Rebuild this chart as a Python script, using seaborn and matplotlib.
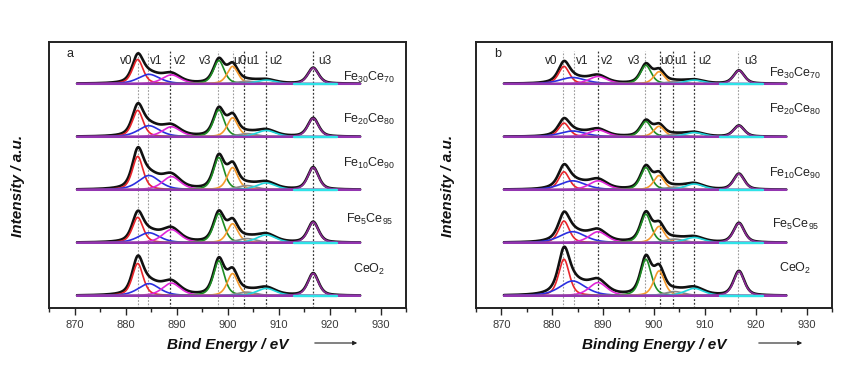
import numpy as np
import pandas as pd
import matplotlib
matplotlib.use("Agg")
import matplotlib.pyplot as plt
import seaborn as sns

# ---------------- data ----------------
samples = ["Fe$_{30}$Ce$_{70}$", "Fe$_{20}$Ce$_{80}$", "Fe$_{10}$Ce$_{90}$",
           "Fe$_{5}$Ce$_{95}$", "CeO$_{2}$"]          # top -> bottom
peak_names = ["v0", "v1", "v2", "v3", "u0", "u1", "u2", "u3"]

# component centres (eV)
centers_a = [882.4, 884.6, 889.0, 898.3, 901.0, 903.8, 907.6, 916.8]
centers_b = [882.3, 884.0, 889.0, 898.4, 901.0, 904.0, 907.9, 916.7]
# component FWHM (eV)
fwhm_a = [2.5, 5.0, 4.2, 2.5, 2.5, 4.5, 4.5, 2.5]
fwhm_b = [2.5, 6.0, 4.2, 2.5, 2.5, 4.5, 4.5, 2.5]

# component heights, rows = samples (top -> bottom), cols = peaks
heights_a = [
    [0.46, 0.18, 0.17, 0.44, 0.33, 0.05, 0.07, 0.30],
    [0.50, 0.21, 0.19, 0.51, 0.36, 0.06, 0.12, 0.35],
    [0.63, 0.27, 0.25, 0.61, 0.42, 0.08, 0.13, 0.42],
    [0.48, 0.19, 0.25, 0.55, 0.36, 0.08, 0.15, 0.39],
    [0.61, 0.23, 0.24, 0.66, 0.42, 0.07, 0.14, 0.42],
]
heights_b = [
    [0.33, 0.12, 0.14, 0.35, 0.23, 0.04, 0.07, 0.25],
    [0.26, 0.11, 0.13, 0.29, 0.20, 0.04, 0.08, 0.21],
    [0.34, 0.17, 0.17, 0.42, 0.27, 0.05, 0.11, 0.30],
    [0.41, 0.21, 0.21, 0.54, 0.31, 0.07, 0.10, 0.37],
    [0.69, 0.28, 0.25, 0.69, 0.47, 0.08, 0.14, 0.46],
]

# vertical guide lines (eV) and whether they are dark
guides_a = [882.4, 884.4, 888.8, 898.2, 901.0, 903.2, 907.5, 916.7]
guides_a_dark = [False, False, True, False, False, True, True, True]
guides_b = [882.2, 884.2, 888.9, 898.3, 901.1, 903.8, 907.8, 916.6]
guides_b_dark = [False, False, True, False, True, True, True, False]

# peak label x positions (eV)
labx_a = [880.2, 886.1, 890.8, 895.7, 902.4, 904.9, 909.4, 919.0]
labx_b = [879.8, 885.8, 890.7, 896.0, 902.5, 905.2, 909.9, 919.0]

# sample label heights above each baseline
samp_y_a = [0.13, 0.32, 0.49, 0.45, 0.50]
samp_y_b = [0.19, 0.51, 0.30, 0.34, 0.51]

energy_range = (870.5, 926.0)
xticks = [870, 880, 890, 900, 910, 920, 930]

comp_colors = ["#e8252b", "#2b2fe0", "#e026d8", "#1e8c24", "#f59a2c",
               "#8a8a8a", "#1fd6dc", "#8a2a94"]
baseline_color = "#9335b0"

# ---------------- plotting ----------------
sns.set_style("ticks")
plt.rcParams["font.family"] = ["Liberation Sans", "DejaVu Sans"]
plt.rcParams["mathtext.default"] = "regular"

fig = plt.figure(figsize=(8.51, 3.66), dpi=100)
ax_a = fig.add_axes([49 / 851, 1 - 308 / 366, 357 / 851, 266 / 366])
ax_b = fig.add_axes([476 / 851, 1 - 308 / 366, 356 / 851, 266 / 366])

x = np.linspace(energy_range[0], energy_range[1], 1200)


def pv(xx, c, h, w, eta=0.5):
    s = w / 2.3548
    g = np.exp(-0.5 * ((xx - c) / s) ** 2)
    l = 1.0 / (1.0 + (2 * (xx - c) / w) ** 2)
    return h * (eta * l + (1 - eta) * g)


def draw(ax, centers, fwhm, heights, guides, guides_dark, labx, samp_y,
         letter, xlabel, ylab_x, arrow_x):
    n = len(samples)
    for i, row in enumerate(heights):
        off = n - 1 - i
        comps = [pv(x, c, h, w) for c, h, w in zip(centers, row, fwhm)]
        total = np.sum(comps, axis=0)
        sns.lineplot(x=x, y=total + off, ax=ax, color="#111111", lw=1.9,
                     zorder=3)
        for k, comp in enumerate(comps):
            sns.lineplot(x=x, y=comp + off, ax=ax, color=comp_colors[k],
                         lw=1.2, zorder=4)
        sns.lineplot(x=x, y=np.zeros_like(x) + off, ax=ax,
                     color=baseline_color, lw=1.7, zorder=5)
        seg = x[(x > 913.0) & (x < 921.5)]
        sns.lineplot(x=seg, y=np.zeros_like(seg) + off, ax=ax,
                     color="#2fe3e8", lw=1.7, zorder=5)
        ax.text(927.8, off + samp_y[i], samples[i], fontsize=9,
                ha="center", va="center", color="#222222")
    for g, dark in zip(guides, guides_dark):
        ax.axvline(g, ymin=0, ymax=0.965, ls=(0, (1.5, 1.5)),
                   lw=0.9 if dark else 0.8,
                   color="#333333" if dark else "#9a9a9a", zorder=2)
    for name, lx in zip(peak_names, labx):
        ax.text(lx, 4.44, name, fontsize=8.5, ha="center", va="center",
                color="#222222")
    ax.text(0.06, 0.955, letter, transform=ax.transAxes, fontsize=9,
            ha="center", va="center", color="#222222")

    ax.set_xlim(865, 935)
    ax.set_ylim(-0.23, 4.79)
    ax.set_xticks(xticks)
    ax.set_xticks(np.arange(865, 936, 5), minor=True)
    ax.set_yticks([])
    ax.tick_params(axis="x", which="major", length=5, width=1.0,
                   labelsize=8, labelcolor="#3a3a3a", direction="out")
    ax.tick_params(axis="x", which="minor", length=3, width=1.0,
                   direction="out")
    for sp in ax.spines.values():
        sp.set_linewidth(1.4)
        sp.set_color("#222222")
        sp.set_visible(True)
    ax.set_xlabel(xlabel, fontsize=11, fontweight="bold", style="italic",
                  labelpad=6, color="#111111")
    ax.set_ylabel("Intensity / a.u.", fontsize=11, fontweight="bold",
                  style="italic", color="#111111")
    ax.yaxis.set_label_coords(ylab_x, 0.46)
    ax.annotate("", xy=(arrow_x[1], 1 - 343 / 366), xycoords="figure fraction",
                xytext=(arrow_x[0], 1 - 343 / 366), textcoords="figure fraction",
                arrowprops=dict(arrowstyle="-|>", lw=0.8, color="#222222",
                                mutation_scale=6))


draw(ax_a, centers_a, fwhm_a, heights_a, guides_a, guides_a_dark, labx_a,
     samp_y_a, "a", "Bind Energy / eV", -0.067, (312 / 851, 360 / 851))
draw(ax_b, centers_b, fwhm_b, heights_b, guides_b, guides_b_dark, labx_b,
     samp_y_b, "b", "Binding Energy / eV", -0.058, (756 / 851, 805 / 851))

fig.savefig("out.png", dpi=100)
